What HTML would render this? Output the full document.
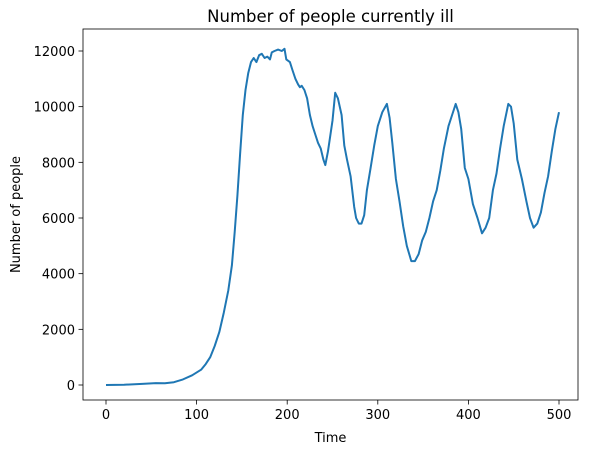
<!DOCTYPE html>
<html><head><meta charset="utf-8">
<style>
html,body{margin:0;padding:0;background:#fff;}
svg{display:block;font-family:"DejaVu Sans","Liberation Sans",sans-serif;}
</style></head>
<body>
<svg id="chart" width="589" height="455"></svg>
<script>
const times = [0,20,40,55,65,75,85,95,105,110,115,120,125,130,135,139,142,145,148,151,154,157,160,163,166,169,172,175,178,181,183,186,190,194,197,199,203,206,209,212,214,216,219,222,225,228,231,234,237,240,242,245,250,253,256,260,263,266,270,274,276,279,282,285,288,292,296,300,305,310,313,316,320,324,328,332,337,341,345,349,353,357,361,365,369,373,378,382,386,389,392,396,400,405,410,415,419,423,427,431,435,439,444,447,450,454,459,464,468,472,476,480,484,488,492,496,500];
const ill = [0,10,40,70,60,100,200,350,550,750,1000,1400,1900,2600,3400,4300,5500,6800,8300,9700,10600,11200,11600,11750,11600,11850,11900,11750,11800,11700,11950,12000,12050,12000,12080,11700,11600,11300,11000,10800,10700,10750,10600,10300,9700,9300,9000,8700,8500,8100,7900,8400,9500,10500,10300,9700,8600,8100,7500,6400,6000,5800,5800,6100,7000,7800,8600,9300,9800,10100,9600,8700,7400,6600,5700,5000,4450,4450,4700,5200,5500,6000,6600,7000,7700,8500,9300,9700,10100,9800,9200,7800,7400,6500,6000,5450,5650,6000,7000,7600,8500,9300,10100,10000,9400,8100,7400,6600,6000,5650,5800,6200,6900,7500,8400,9200,9800];
const xTicks = [0,100,200,300,400,500];
const yTicks = [0,2000,4000,6000,8000,10000,12000];

const NS="http://www.w3.org/2000/svg";
const svg=document.getElementById('chart');
const L=83,R=578,T=29,B=400;
const xs=t=>106+t*(559-106)/500;
const ys=v=>385-v*(385-51)/12000;
function mk(tag,attrs,parent){const e=document.createElementNS(NS,tag);for(const k in attrs)e.setAttribute(k,attrs[k]);(parent||svg).appendChild(e);return e;}

const title=mk('text',{x:(L+R)/2,y:22,'text-anchor':'middle','font-size':16.5,fill:'#000'});
title.textContent='Number of people currently ill';



const frame=mk('rect',{x:L,y:T,width:R-L,height:B-T,fill:'none',stroke:'#000','stroke-width':0.8});



xTicks.forEach(t=>{
  const x=xs(t);
  const tk=mk('line',{x1:x,x2:x,y1:B,y2:B+4.5,stroke:'#000','stroke-width':0.8});
  
  
  const lb=mk('text',{x:x,y:B+19,'text-anchor':'middle','font-size':13,fill:'#000'});
  lb.textContent=t;
  
  
});
yTicks.forEach(v=>{
  const y=ys(v);
  const tk=mk('line',{x1:L-4.5,x2:L,y1:y,y2:y,stroke:'#000','stroke-width':0.8});
  
  
  const lb=mk('text',{x:L-8,y:y+5,'text-anchor':'end','font-size':13,fill:'#000'});
  lb.textContent=v;
  
  
});

const xt=mk('text',{x:(L+R)/2,y:442,'text-anchor':'middle','font-size':13,fill:'#000'});
xt.textContent='Time';


const yt=mk('text',{x:20,y:(T+B)/2,'text-anchor':'middle','font-size':13,fill:'#000',transform:`rotate(-90 20 ${(T+B)/2})`});
yt.textContent='Number of people';



const d=times.map((t,i)=>(i?'L':'M')+xs(t).toFixed(1)+' '+ys(ill[i]).toFixed(1)).join(' ');
const line=mk('path',{d:d,fill:'none',stroke:'#1f77b4','stroke-width':2,'stroke-linejoin':'round'});


</script>
</body></html>
